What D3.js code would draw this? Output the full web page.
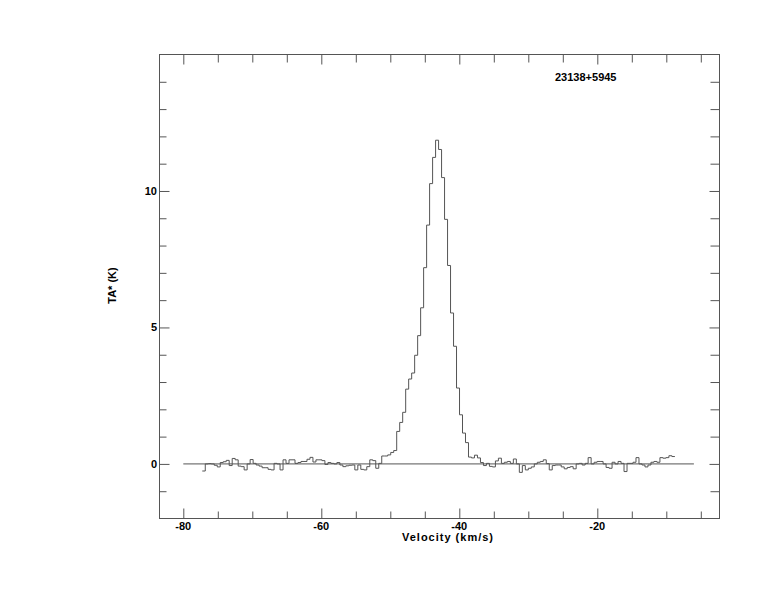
<!DOCTYPE html>
<html>
<head>
<meta charset="utf-8">
<script src="https://cdn.jsdelivr.net/npm/d3@7"></script>
<style>
  html, body { margin: 0; padding: 0; background: #fff; }
  svg { display: block; }
  text { font-family: "Liberation Sans", Arial, Helvetica, sans-serif; font-weight: bold; font-size: 11px; fill: #000; }
</style>
</head>
<body>
<svg id="chart" width="774" height="612"></svg>
<script>
// ---- data ----
const sourceName = "23138+5945";
const xLabel = "Velocity (km/s)";
const yLabel = "TA* (K)";
const vStart = -77.25;      // left edge of first channel (km/s)
const dv = 0.4335;          // channel width (km/s)
const ta = [
  -0.26, 0.00, 0.01, 0.00, -0.05, -0.11, 0.05, 0.08, 0.13, -0.06,
   0.20, 0.15, -0.08, -0.10, -0.22, 0.00, 0.16, 0.02, -0.04, -0.08,
  -0.14, -0.14, -0.20, -0.22, 0.02, 0.00, -0.22, 0.15, 0.02, 0.15,
   0.15, 0.02, 0.05, 0.09, 0.09, 0.17, 0.24, 0.07, 0.15, 0.15,
   0.12, -0.02, 0.05, 0.02, 0.00, 0.05, -0.04, -0.10, -0.07, -0.05,
  -0.04, -0.22, -0.04, -0.20, -0.22, -0.10, 0.15, 0.12, -0.16, 0.02,
   0.29, 0.29, 0.33, 0.42, 0.49, 1.19, 1.52, 1.89, 2.74, 3.11,
   3.33, 3.98, 4.70, 5.72, 7.19, 8.75, 10.27, 11.23, 11.86, 11.52,
  10.49, 8.96, 7.27, 5.53, 4.31, 2.78, 1.80, 1.13, 0.78, 0.25,
   0.22, 0.32, 0.22, 0.05, -0.06, 0.02, -0.09, -0.11, 0.11, 0.21,
   0.02, 0.06, 0.09, 0.02, 0.18, 0.00, -0.31, -0.06, -0.22, -0.16,
  -0.11, 0.00, 0.06, 0.09, 0.15, 0.01, -0.22, -0.06, -0.04, -0.04,
  -0.11, -0.18, -0.13, -0.10, -0.18, 0.00, 0.02, -0.04, 0.02, 0.23,
   0.00, 0.06, 0.09, 0.09, 0.00, -0.13, -0.16, 0.06, 0.00, 0.09,
   0.02, -0.28, 0.02, 0.02, 0.06, 0.23, 0.00, -0.04, -0.11, -0.04,
   0.06, 0.09, 0.06, 0.23, 0.21, 0.23, 0.30, 0.27
];
const baselineRange = [-80, -6];
const xMajorTicks = [-80, -60, -40, -20];
const yMajorTicks = [0, 5, 10];

// ---- layout ----
const padL = 159.5, padR = 719.5, padT = 54.5, padB = 518.5;
const col = "#555";

const svg = d3.select("#chart");
const x = d3.scaleLinear().domain([-83.45, -2.29]).range([padL, padR]);
const y = d3.scaleLinear().domain([-2, 15]).range([padB, padT]);

const xMinor = d3.range(-80, -2, 5);
const yMinor = d3.range(-1, 15, 1);

// frame
svg.append("rect")
  .attr("x", padL).attr("y", padT)
  .attr("width", padR - padL).attr("height", padB - padT)
  .attr("fill", "none").attr("stroke", col).attr("stroke-width", 1);

function styleAxis(g) {
  g.select(".domain").remove();
  g.selectAll("line").attr("stroke", col);
}
const isXMajor = v => xMajorTicks.includes(v);
const isYMajor = v => yMajorTicks.includes(v);

// bottom
svg.append("g").attr("transform", `translate(0,${padB})`)
  .call(d3.axisBottom(x).tickValues(xMinor).tickSizeOuter(0)
    .tickSizeInner(-7).tickFormat(""))
  .call(styleAxis)
  .call(g => g.selectAll(".tick line").attr("y2", d => isXMajor(d) ? -10 : -7));
// top
svg.append("g").attr("transform", `translate(0,${padT})`)
  .call(d3.axisTop(x).tickValues(xMinor).tickSizeOuter(0)
    .tickSizeInner(-7).tickFormat(""))
  .call(styleAxis)
  .call(g => g.selectAll(".tick line").attr("y2", d => isXMajor(d) ? 10 : 8));
// left
svg.append("g").attr("transform", `translate(${padL},0)`)
  .call(d3.axisLeft(y).tickValues(yMinor).tickSizeOuter(0)
    .tickSizeInner(-7).tickFormat(""))
  .call(styleAxis)
  .call(g => g.selectAll(".tick line").attr("x2", d => isYMajor(d) ? 10 : 7));
// right
svg.append("g").attr("transform", `translate(${padR},0)`)
  .call(d3.axisRight(y).tickValues(yMinor).tickSizeOuter(0)
    .tickSizeInner(-7).tickFormat(""))
  .call(styleAxis)
  .call(g => g.selectAll(".tick line").attr("x2", d => isYMajor(d) ? -10 : -9));

// tick labels
svg.append("g").selectAll("text").data(xMajorTicks).join("text")
  .attr("x", d => x(d)).attr("y", 530)
  .attr("text-anchor", "middle").text(d => d);
svg.append("g").selectAll("text").data(yMajorTicks).join("text")
  .attr("x", 157).attr("y", d => y(d) + 4)
  .attr("text-anchor", "end").text(d => d);

// axis titles
svg.append("text").attr("x", 402).attr("y", 541)
  .attr("textLength", 91).attr("lengthAdjust", "spacing").text(xLabel);
svg.append("text").attr("transform", "translate(116,285.5) rotate(-90)")
  .attr("text-anchor", "middle").text(yLabel);
svg.append("text").attr("x", 555).attr("y", 81).text(sourceName);

// zero baseline
svg.append("line")
  .attr("x1", x(baselineRange[0])).attr("x2", x(baselineRange[1]))
  .attr("y1", y(0)).attr("y2", y(0))
  .attr("stroke", col).attr("stroke-width", 1);

// spectrum (histogram style)
const pts = ta.map((t, i) => [vStart + i * dv, t]);
pts.push([vStart + ta.length * dv, ta[ta.length - 1]]);
svg.append("path")
  .attr("d", d3.line().x(d => x(d[0])).y(d => y(d[1])).curve(d3.curveStepAfter)(pts))
  .attr("fill", "none").attr("stroke", col).attr("stroke-width", 1);
</script>
</body>
</html>
